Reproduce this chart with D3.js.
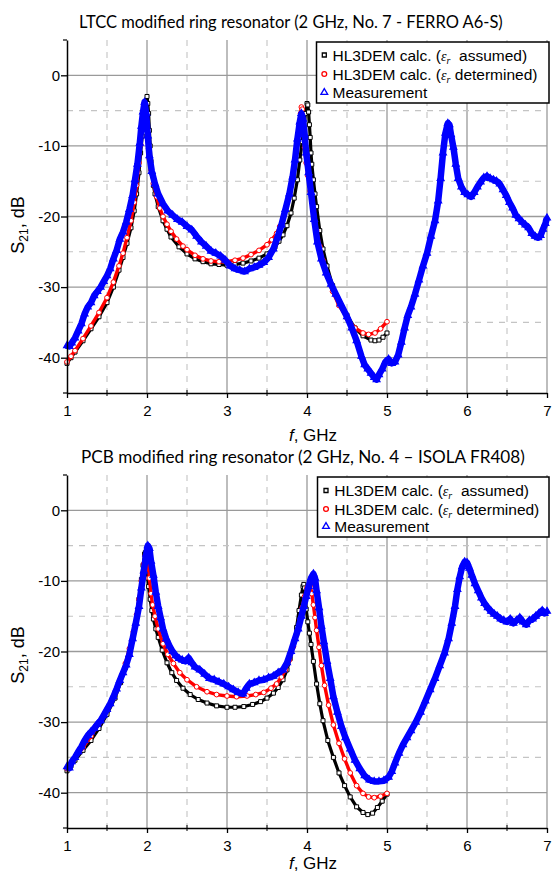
<!DOCTYPE html>
<html><head><meta charset="utf-8">
<script src="https://cdn.jsdelivr.net/npm/d3@7"></script>
<style>body{margin:0;background:#fff} svg{display:block}</style>
</head><body><svg id="c" width="553" height="873"></svg>
<script>
// ---------- data ----------
const xTicks = [1, 2, 3, 4, 5, 6, 7];
const xMinor = [1.5, 2.5, 3.5, 4.5, 5.5, 6.5];
const yTicks = [0, -10, -20, -30, -40];
const yMinor = [-5, -15, -25, -35];
const legendLabels = ["assumed", "determined", "Measurement"];
const titles = [
  "LTCC modified ring resonator (2 GHz, No. 7 - FERRO A6-S)",
  "PCB modified ring resonator (2 GHz, No. 4 \u2013 ISOLA FR408)"
];

// LTCC (top) – HL3DEM calc. (eps_r assumed)
const topAssumed = [[1.00,-40.8],[1.05,-40.0],[1.10,-39.2],[1.20,-37.6],[1.30,-35.9],[1.40,-34.2],[1.50,-32.2],[1.58,-30.0],[1.65,-27.6],[1.70,-25.8],[1.75,-23.8],[1.80,-21.6],[1.84,-19.2],[1.87,-16.8],[1.90,-13.8],[1.92,-11.0],[1.94,-8.6],[1.96,-6.2],[1.98,-4.2],[2.00,-3.0],[2.01,-4.0],[2.02,-5.4],[2.03,-7.8],[2.04,-10.0],[2.05,-12.2],[2.06,-13.8],[2.08,-15.6],[2.10,-16.8],[2.14,-18.6],[2.20,-20.6],[2.25,-21.8],[2.30,-22.9],[2.40,-24.3],[2.50,-25.3],[2.60,-26.0],[2.70,-26.4],[2.80,-26.7],[2.90,-26.8],[3.00,-26.9],[3.10,-26.8],[3.20,-26.6],[3.30,-26.3],[3.40,-25.9],[3.50,-25.3],[3.60,-24.3],[3.65,-23.5],[3.70,-22.6],[3.75,-21.3],[3.80,-19.5],[3.84,-17.4],[3.88,-14.8],[3.91,-12.0],[3.94,-9.4],[3.96,-7.4],[3.98,-5.4],[4.00,-4.0],[4.01,-4.2],[4.02,-5.2],[4.03,-7.0],[4.04,-8.8],[4.05,-11.0],[4.06,-12.6],[4.08,-14.8],[4.10,-16.8],[4.12,-18.6],[4.16,-22.0],[4.20,-24.6],[4.25,-27.0],[4.32,-29.8],[4.40,-32.0],[4.50,-34.0],[4.60,-35.8],[4.70,-36.9],[4.80,-37.5],[4.85,-37.6],[4.90,-37.5],[4.95,-37.1],[5.00,-36.5]];
// LTCC (top) – HL3DEM calc. (eps_r determined)
const topDetermined = [[1.00,-40.6],[1.05,-39.8],[1.10,-39.0],[1.20,-37.3],[1.30,-35.5],[1.40,-33.6],[1.50,-31.5],[1.58,-29.3],[1.65,-27.0],[1.70,-25.2],[1.75,-23.0],[1.80,-20.6],[1.84,-18.0],[1.87,-15.6],[1.90,-12.4],[1.92,-9.8],[1.94,-7.4],[1.96,-5.2],[1.97,-4.4],[1.98,-4.2],[1.99,-5.2],[2.00,-7.0],[2.01,-8.8],[2.02,-10.4],[2.03,-11.8],[2.05,-13.4],[2.08,-15.3],[2.12,-17.2],[2.16,-18.8],[2.20,-20.0],[2.25,-21.1],[2.30,-22.1],[2.37,-23.2],[2.45,-24.2],[2.50,-24.7],[2.60,-25.5],[2.70,-26.0],[2.80,-26.3],[2.90,-26.4],[3.00,-26.4],[3.10,-26.2],[3.20,-25.9],[3.30,-25.4],[3.40,-24.8],[3.50,-24.0],[3.56,-23.3],[3.62,-22.4],[3.66,-21.4],[3.70,-20.2],[3.74,-18.6],[3.78,-16.8],[3.82,-14.4],[3.85,-12.2],[3.88,-9.6],[3.90,-7.4],[3.92,-5.4],[3.93,-4.5],[3.94,-4.8],[3.95,-6.4],[3.96,-8.4],[3.97,-10.2],[3.99,-12.4],[4.01,-14.2],[4.04,-16.4],[4.08,-19.2],[4.12,-22.0],[4.16,-24.2],[4.20,-26.2],[4.26,-28.6],[4.32,-30.6],[4.40,-32.6],[4.50,-34.4],[4.60,-35.8],[4.70,-36.5],[4.77,-36.7],[4.85,-36.5],[4.92,-35.9],[5.00,-34.9]];
// LTCC (top) – Measurement
const topMeasured = [[1.00,-38.3],[1.03,-38.4],[1.06,-37.9],[1.10,-37.2],[1.14,-36.2],[1.18,-35.2],[1.22,-33.8],[1.26,-32.8],[1.30,-32.2],[1.34,-31.2],[1.38,-30.6],[1.42,-30.0],[1.46,-29.2],[1.50,-28.4],[1.54,-27.4],[1.58,-26.0],[1.62,-24.8],[1.66,-23.2],[1.70,-22.2],[1.74,-20.8],[1.78,-19.0],[1.82,-17.0],[1.85,-14.8],[1.88,-12.6],[1.91,-9.6],[1.93,-7.2],[1.95,-5.2],[1.97,-3.8],[1.99,-5.4],[2.01,-8.6],[2.03,-11.4],[2.06,-13.6],[2.10,-15.4],[2.14,-16.8],[2.20,-18.2],[2.26,-19.2],[2.32,-19.8],[2.38,-20.4],[2.44,-20.8],[2.50,-21.4],[2.56,-21.9],[2.62,-22.8],[2.68,-23.6],[2.74,-24.2],[2.80,-24.9],[2.86,-25.2],[2.92,-25.6],[2.98,-26.2],[3.04,-27.0],[3.10,-27.4],[3.16,-27.6],[3.22,-27.8],[3.28,-27.4],[3.34,-27.2],[3.40,-26.9],[3.46,-26.5],[3.52,-25.8],[3.58,-24.6],[3.63,-23.0],[3.68,-21.2],[3.73,-19.0],[3.78,-16.8],[3.82,-14.4],[3.85,-12.0],[3.88,-9.0],[3.91,-6.6],[3.93,-5.4],[3.95,-6.2],[3.97,-8.4],[3.99,-11.0],[4.02,-13.8],[4.05,-16.6],[4.09,-20.4],[4.13,-23.6],[4.18,-26.0],[4.24,-28.0],[4.30,-29.6],[4.36,-31.0],[4.42,-32.4],[4.50,-34.2],[4.56,-35.8],[4.62,-37.6],[4.68,-39.8],[4.72,-41.0],[4.76,-41.6],[4.80,-42.2],[4.84,-42.8],[4.87,-43.1],[4.90,-42.4],[4.94,-41.6],[4.98,-40.6],[5.02,-40.2],[5.06,-40.8],[5.10,-40.6],[5.14,-39.6],[5.18,-37.8],[5.22,-35.8],[5.26,-34.0],[5.30,-32.8],[5.35,-31.0],[5.40,-29.0],[5.45,-27.0],[5.50,-25.2],[5.55,-22.8],[5.60,-20.6],[5.64,-17.8],[5.67,-14.6],[5.70,-11.0],[5.73,-8.2],[5.76,-6.8],[5.78,-7.0],[5.80,-8.4],[5.83,-10.2],[5.86,-12.6],[5.89,-14.6],[5.93,-15.8],[5.97,-16.6],[6.01,-16.9],[6.05,-17.2],[6.09,-16.6],[6.13,-15.8],[6.17,-15.1],[6.21,-14.5],[6.25,-14.3],[6.29,-14.6],[6.33,-14.8],[6.37,-15.0],[6.41,-15.4],[6.45,-16.2],[6.49,-17.0],[6.53,-18.0],[6.57,-18.8],[6.61,-19.8],[6.65,-20.3],[6.69,-20.8],[6.73,-21.2],[6.77,-21.6],[6.81,-22.4],[6.85,-22.8],[6.89,-23.0],[6.92,-22.7],[6.95,-21.8],[6.98,-21.0],[7.00,-20.2]];

// PCB (bottom) – HL3DEM calc. (eps_r assumed)
const botAssumed = [[1.00,-36.9],[1.05,-36.2],[1.10,-35.4],[1.20,-34.0],[1.30,-32.6],[1.40,-30.9],[1.50,-28.9],[1.60,-26.6],[1.67,-24.4],[1.73,-22.3],[1.78,-20.2],[1.83,-17.6],[1.87,-15.0],[1.90,-12.6],[1.93,-9.8],[1.95,-7.8],[1.97,-6.2],[1.98,-6.0],[1.99,-6.8],[2.00,-8.2],[2.01,-9.6],[2.02,-10.8],[2.04,-12.6],[2.06,-14.2],[2.08,-15.4],[2.11,-16.8],[2.14,-18.0],[2.19,-19.8],[2.25,-21.6],[2.31,-23.0],[2.37,-24.1],[2.45,-25.2],[2.54,-26.1],[2.64,-26.8],[2.75,-27.3],[2.87,-27.7],[3.00,-27.9],[3.10,-27.9],[3.21,-27.8],[3.32,-27.5],[3.42,-27.1],[3.50,-26.6],[3.58,-25.9],[3.64,-25.1],[3.70,-24.0],[3.75,-22.6],[3.79,-21.0],[3.83,-19.0],[3.87,-16.6],[3.90,-14.2],[3.93,-12.0],[3.95,-10.8],[3.96,-10.5],[3.97,-11.0],[3.98,-12.6],[3.99,-14.0],[4.01,-15.8],[4.03,-17.4],[4.05,-19.0],[4.08,-21.4],[4.12,-24.6],[4.16,-27.4],[4.20,-29.8],[4.26,-32.6],[4.33,-35.0],[4.40,-37.2],[4.47,-39.0],[4.54,-40.6],[4.62,-42.0],[4.70,-42.8],[4.76,-43.1],[4.82,-42.9],[4.88,-42.1],[4.94,-41.2],[5.00,-40.2]];
// PCB (bottom) – HL3DEM calc. (eps_r determined)
const botDetermined = [[1.00,-36.6],[1.05,-35.9],[1.10,-35.1],[1.20,-33.6],[1.30,-32.0],[1.40,-30.2],[1.50,-28.2],[1.60,-25.9],[1.67,-23.8],[1.73,-21.7],[1.78,-19.6],[1.83,-17.2],[1.87,-14.8],[1.90,-12.6],[1.93,-10.0],[1.96,-7.6],[1.98,-6.4],[2.00,-6.2],[2.01,-7.0],[2.03,-9.6],[2.05,-11.8],[2.07,-13.4],[2.10,-15.0],[2.14,-16.8],[2.20,-18.9],[2.26,-20.4],[2.33,-21.7],[2.41,-23.0],[2.50,-24.0],[2.62,-25.0],[2.75,-25.7],[2.87,-26.1],[3.00,-26.3],[3.12,-26.4],[3.25,-26.3],[3.36,-26.1],[3.46,-25.8],[3.55,-25.2],[3.62,-24.6],[3.68,-23.6],[3.73,-22.6],[3.78,-21.2],[3.83,-19.3],[3.87,-17.6],[3.91,-15.6],[3.94,-13.8],[3.97,-12.2],[4.00,-11.0],[4.02,-10.6],[4.04,-10.6],[4.06,-11.8],[4.08,-13.4],[4.10,-15.2],[4.12,-17.0],[4.15,-19.4],[4.18,-22.0],[4.22,-24.8],[4.27,-27.6],[4.33,-30.4],[4.40,-33.0],[4.47,-35.2],[4.54,-37.2],[4.62,-39.0],[4.70,-40.1],[4.77,-40.6],[4.84,-40.7],[4.92,-40.5],[5.00,-40.1]];
// PCB (bottom) – Measurement
const botMeasured = [[1.00,-36.3],[1.03,-36.5],[1.06,-35.6],[1.10,-35.0],[1.14,-34.2],[1.18,-33.5],[1.22,-32.6],[1.26,-31.9],[1.30,-31.4],[1.34,-30.9],[1.38,-30.3],[1.42,-29.8],[1.46,-29.0],[1.50,-28.2],[1.54,-27.4],[1.58,-26.4],[1.62,-25.3],[1.66,-24.1],[1.70,-23.0],[1.74,-21.9],[1.78,-20.4],[1.82,-18.2],[1.86,-16.0],[1.90,-13.6],[1.93,-11.0],[1.96,-8.6],[1.99,-6.2],[2.01,-5.0],[2.03,-5.4],[2.05,-7.2],[2.08,-9.2],[2.11,-11.6],[2.14,-13.6],[2.17,-15.2],[2.20,-16.8],[2.24,-18.2],[2.28,-19.2],[2.32,-20.0],[2.36,-20.6],[2.40,-21.0],[2.44,-21.2],[2.48,-21.4],[2.52,-20.9],[2.56,-21.6],[2.60,-22.2],[2.66,-22.6],[2.72,-23.2],[2.78,-23.8],[2.84,-24.0],[2.90,-24.3],[2.96,-24.6],[3.02,-25.0],[3.08,-25.4],[3.14,-25.8],[3.20,-26.0],[3.24,-25.2],[3.28,-24.6],[3.34,-24.4],[3.40,-24.1],[3.46,-24.0],[3.52,-23.7],[3.58,-23.5],[3.64,-23.0],[3.70,-22.6],[3.75,-21.6],[3.80,-20.0],[3.85,-18.2],[3.89,-16.8],[3.93,-15.0],[3.96,-13.6],[3.99,-12.2],[4.02,-10.8],[4.05,-9.6],[4.08,-9.0],[4.10,-9.6],[4.12,-11.4],[4.15,-13.8],[4.18,-16.4],[4.21,-18.6],[4.25,-21.4],[4.29,-23.8],[4.33,-26.4],[4.38,-28.6],[4.43,-30.6],[4.48,-32.2],[4.54,-33.8],[4.60,-35.4],[4.66,-36.6],[4.72,-37.6],[4.78,-38.2],[4.84,-38.4],[4.90,-38.4],[4.96,-38.3],[5.02,-37.8],[5.06,-37.0],[5.10,-35.8],[5.15,-34.4],[5.20,-33.2],[5.25,-32.2],[5.30,-31.2],[5.36,-30.0],[5.42,-28.6],[5.48,-27.0],[5.54,-25.4],[5.60,-23.8],[5.66,-22.0],[5.72,-20.2],[5.77,-18.2],[5.81,-16.0],[5.85,-13.6],[5.88,-11.2],[5.91,-9.4],[5.94,-8.0],[5.97,-7.3],[6.00,-7.4],[6.03,-8.2],[6.06,-9.2],[6.10,-10.4],[6.14,-11.4],[6.18,-12.4],[6.22,-13.2],[6.26,-13.8],[6.30,-14.3],[6.34,-14.7],[6.38,-15.0],[6.42,-15.4],[6.46,-15.6],[6.50,-15.8],[6.54,-15.4],[6.58,-16.0],[6.62,-15.6],[6.66,-15.2],[6.70,-15.8],[6.74,-16.2],[6.78,-15.6],[6.82,-15.4],[6.86,-15.0],[6.90,-14.6],[6.94,-14.2],[6.97,-14.6],[7.00,-14.3]];

// ---------- layout ----------
const panels = [
  { title: titles[0], assumed: topAssumed, determined: topDetermined, measured: topMeasured,
    yTop: 40, yBot: 393, titleX: 79, titleW: 424, titleY: 28, xLabelY: 441, yLabelY: 225,
    legend: { x: 316.5, y: 42, w: 232.5, h: 61, tx: 332.5, mx: 324.3, rows: [60.5, 79.5, 98] } },
  { title: titles[1], assumed: botAssumed, determined: botDetermined, measured: botMeasured,
    yTop: 475, yBot: 828, titleX: 81, titleW: 444, titleY: 463, xLabelY: 869, yLabelY: 655,
    legend: { x: 317.5, y: 477, w: 231.5, h: 60, tx: 334.3, mx: 326, rows: [496, 514.5, 532] } }
];

const svg = d3.select("#c");
const AX = "Liberation Sans, Arial, sans-serif";
const x = d3.scaleLinear().domain([1, 7]).range([67, 547]);

panels.forEach(p => {
  const y = d3.scaleLinear().domain([-45, 5]).range([p.yBot, p.yTop]);
  const g = svg.append("g");

  // title (fit width)
  const t = g.append("text").attr("x", p.titleX).attr("y", p.titleY)
    .style("font-family", "Lato, 'Open Sans', sans-serif").style("font-size", "16px")
    .attr("fill", "#000").text(p.title);
  const w = t.node().getComputedTextLength();
  t.style("font-size", (16 * p.titleW / w).toFixed(2) + "px");

  // grid
  const grid = g.append("g");
  grid.selectAll(".vmaj").data(xTicks.slice(1)).join("line")
    .attr("x1", d => x(d)).attr("x2", d => x(d)).attr("y1", p.yTop).attr("y2", p.yBot)
    .attr("stroke", "#9a9a9a").attr("stroke-width", 1.3);
  grid.selectAll(".vmin").data(xMinor).join("line")
    .attr("x1", d => x(d)).attr("x2", d => x(d)).attr("y1", p.yTop).attr("y2", p.yBot)
    .attr("stroke", "#c4c4c4").attr("stroke-width", 1.1).attr("stroke-dasharray", "6,6");
  grid.selectAll(".hmaj").data(yTicks).join("line")
    .attr("x1", 67).attr("x2", 547).attr("y1", d => y(d)).attr("y2", d => y(d))
    .attr("stroke", "#9a9a9a").attr("stroke-width", 1.3);
  grid.selectAll(".hmin").data(yMinor).join("line")
    .attr("x1", 67).attr("x2", 547).attr("y1", d => y(d)).attr("y2", d => y(d))
    .attr("stroke", "#c4c4c4").attr("stroke-width", 1.1).attr("stroke-dasharray", "6,6");

  // series
  const line = d3.line().x(d => x(d[0])).y(d => y(d[1]));
  const sq = d3.symbol().type(d3.symbolSquare).size(16)();
  const ci = d3.symbol().type(d3.symbolCircle).size(18)();
  const tr = d3.symbol().type(d3.symbolTriangle).size(20)();

  g.append("path").datum(p.assumed).attr("d", line).attr("fill", "none")
    .attr("stroke", "#000").attr("stroke-width", 3.2).attr("stroke-linejoin", "round");
  g.append("g").selectAll("path").data(p.assumed).join("path").attr("d", sq)
    .attr("transform", d => `translate(${x(d[0])},${y(d[1])})`)
    .attr("fill", "#fff").attr("stroke", "#000").attr("stroke-width", 1);

  g.append("path").datum(p.determined).attr("d", line).attr("fill", "none")
    .attr("stroke", "#ff0000").attr("stroke-width", 3.4).attr("stroke-linejoin", "round");
  g.append("g").selectAll("path").data(p.determined).join("path").attr("d", ci)
    .attr("transform", d => `translate(${x(d[0])},${y(d[1])})`)
    .attr("fill", "#fff").attr("stroke", "#ff0000").attr("stroke-width", 1);

  g.append("path").datum(p.measured).attr("d", line).attr("fill", "none")
    .attr("stroke", "#0000ff").attr("stroke-width", 6.5).attr("stroke-linejoin", "round");
  g.append("g").selectAll("path").data(p.measured).join("path").attr("d", tr)
    .attr("transform", d => `translate(${x(d[0])},${y(d[1])})`)
    .attr("fill", "#0000ff").attr("stroke", "#0000ff").attr("stroke-width", 1.2);

  // axes
  const xa = g.append("g").attr("transform", `translate(0,${p.yBot})`)
    .call(d3.axisBottom(x).tickValues(xTicks).tickFormat(d3.format("d")).tickSize(5).tickPadding(7).tickSizeOuter(0));
  xa.select(".domain").attr("stroke", "#000").attr("stroke-width", 1.5);
  xa.selectAll(".tick line").attr("stroke", "#000").attr("stroke-width", 1.3);
  xa.selectAll("text").style("font-family", AX).style("font-size", "15px").attr("fill", "#000");
  g.append("g").selectAll("line").data(xMinor).join("line")
    .attr("x1", d => x(d)).attr("x2", d => x(d)).attr("y1", p.yBot - 3).attr("y2", p.yBot + 3)
    .attr("stroke", "#000").attr("stroke-width", 1);

  const ya = g.append("g").attr("transform", "translate(67,0)")
    .call(d3.axisLeft(y).tickValues(yTicks).tickFormat(d3.format("d")).tickSize(6).tickPadding(1).tickSizeOuter(0));
  ya.select(".domain").attr("stroke", "#000").attr("stroke-width", 1.5);
  ya.selectAll(".tick line").attr("stroke", "#000").attr("stroke-width", 1.3);
  ya.selectAll("text").style("font-family", AX).style("font-size", "15px").attr("fill", "#000")
    .text(d => d === 0 ? "0" : "-" + Math.abs(d));
  g.append("g").selectAll("line").data([5, -45]).join("line")
    .attr("x1", 63).attr("x2", 67).attr("y1", d => y(d)).attr("y2", d => y(d))
    .attr("stroke", "#000").attr("stroke-width", 1.2);

  // axis labels
  const xl = g.append("text").attr("x", 313).attr("y", p.xLabelY).attr("text-anchor", "middle")
    .style("font-family", AX).style("font-size", "17px").attr("fill", "#000");
  xl.append("tspan").style("font-style", "italic").text("f");
  xl.append("tspan").text(", GHz");

  const yl = g.append("text").attr("transform", `translate(24,${p.yLabelY}) rotate(-90)`)
    .attr("text-anchor", "middle").style("font-family", AX).style("font-size", "18px").attr("fill", "#000");
  yl.append("tspan").text("S");
  yl.append("tspan").attr("dy", 3.5).style("font-size", "12px").text("21");
  yl.append("tspan").attr("dy", -3.5).text(", dB");

  // legend
  const L = p.legend;
  const lg = g.append("g");
  lg.append("rect").attr("x", L.x).attr("y", L.y).attr("width", L.w).attr("height", L.h)
    .attr("fill", "#fff").attr("stroke", "#000").attr("stroke-width", 1.5);
  const syms = [[sq, "#000", "#fff"], [ci, "#ff0000", "#fff"], [tr, "#0000ff", "#fff"]];
  L.rows.forEach((by, i) => {
    lg.append("path").attr("d", syms[i][0])
      .attr("transform", `translate(${L.mx},${by - 5.5})`)
      .attr("fill", syms[i][2]).attr("stroke", syms[i][1]).attr("stroke-width", 1.3);
    const tx = lg.append("text").attr("x", L.tx).attr("y", by)
      .style("font-family", AX).style("font-size", "15.5px").attr("fill", "#000")
      .attr("xml:space", "preserve").style("white-space", "pre");
    if (i < 2) {
      tx.append("tspan").text("HL3DEM calc. (");
      tx.append("tspan").style("font-family", "Liberation Serif, serif").style("font-style", "italic")
        .style("font-size", "14px").text("\u03b5");
      tx.append("tspan").attr("dy", 3).style("font-family", "Liberation Serif, serif")
        .style("font-style", "italic").style("font-size", "10px").text("r");
      tx.append("tspan").attr("dy", -3).text(i === 0 ? "  " + legendLabels[0] + ")" : " " + legendLabels[1] + ")");
    } else {
      tx.append("tspan").text(legendLabels[2]);
    }
  });
});
</script></body></html>
